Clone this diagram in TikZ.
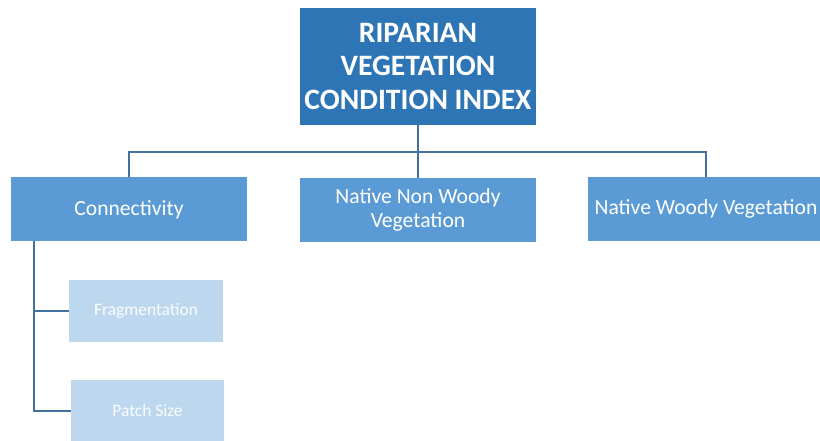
\documentclass[tikz,border=0pt]{standalone}
\usepackage{fontspec}
\setmainfont{Carlito}
\definecolor{deepblue}{HTML}{2E75B6}
\definecolor{midblue}{HTML}{5B9BD5}
\definecolor{paleblue}{HTML}{BDD7EE}
\definecolor{linkblue}{HTML}{41719C}
\begin{document}
\begin{tikzpicture}[x=0.75pt,y=-0.75pt]

      \tikzset{headbox/.style={fill=deepblue, text=white, minimum width=177pt, minimum height=87.75pt, inner sep=0pt, align=center, font=\fontsize{22.2}{24.8}\selectfont\bfseries}}
      \tikzset{mainbox/.style={fill=midblue, text=white, minimum width=177pt, minimum height=48pt, inner sep=0pt, align=center, font=\fontsize{16.2}{18}\selectfont}}
      \tikzset{subbox/.style={fill=paleblue, text=white!92!paleblue, minimum width=115pt, minimum height=45.75pt, inner sep=0pt, align=center, font=\fontsize{13.1}{15}\selectfont}}
      \tikzset{link/.style={draw=linkblue, line width=1.5pt}}

      \clip (0,0) rectangle (820,441);
      \useasboundingbox (0,0) rectangle (820,441);
%% Boxes
      	\node[headbox] (rvci) at (418,66.5) {RIPARIAN\\VEGETATION\\CONDITION INDEX};
      	\node[mainbox] (conn) at (129,209.5) {Connectivity};
      	\node[mainbox] (nonwoody) at (418,210) {Native Non Woody\\Vegetation};
      	\node[mainbox] (woody) at (706,209) {Native Woody Vegetation};
      	\node[subbox] (frag) at (146,311) {Fragmentation};
      	\node[subbox] (patch) at (147.5,410.5) {Patch Size};
%Connectors
      	\coordinate (bus) at (418,152);
      	\coordinate (trunk) at (34,241);
		\path [link] (rvci.south) -- (nonwoody.north);
		\path [link] (conn.north) |- (bus) -| (woody.north);
		\path [link] (trunk) |- (frag.west);
		\path [link] (trunk) |- (patch.west);

	\end{tikzpicture}
\end{document}
